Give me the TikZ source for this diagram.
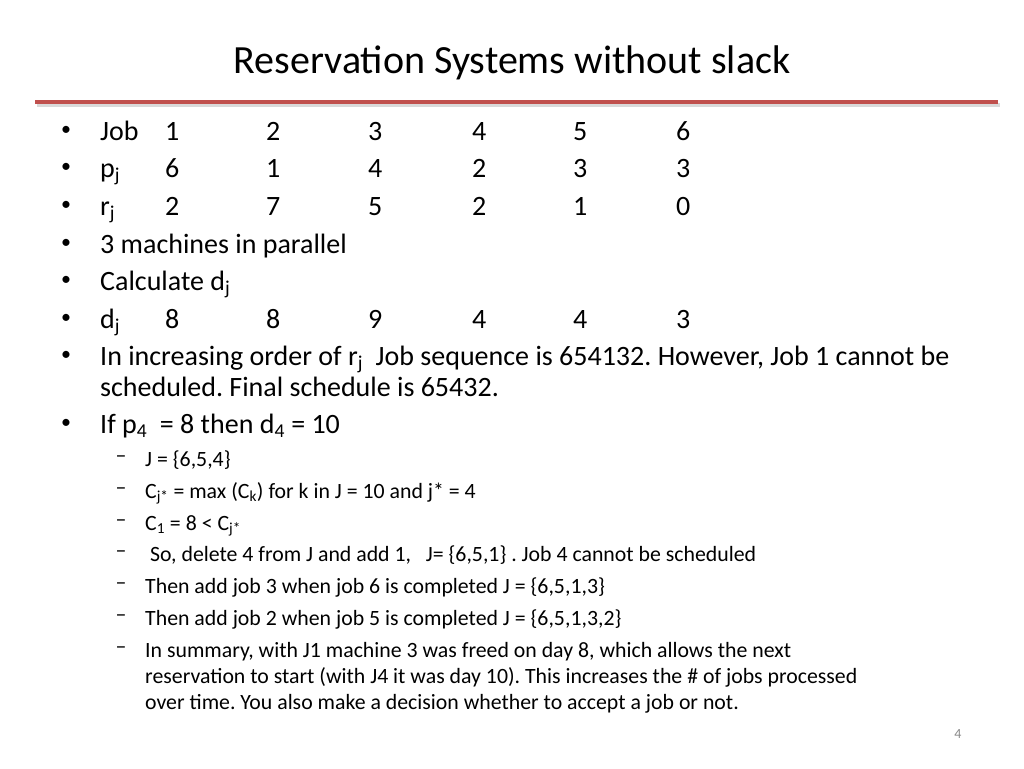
\documentclass[tikz,border=0pt]{standalone}
\usepackage{fontspec}
\setmainfont{Carlito}
\usetikzlibrary{positioning}
\definecolor{rulered}{RGB}{192,80,77}
\definecolor{pagegrey}{RGB}{137,137,137}
\frenchspacing
\begin{document}
\begin{tikzpicture}[x=1pt,y=-1pt,
  body/.style={anchor=base west,inner sep=0pt,font=\fontsize{28}{33}\selectfont},
  sub/.style={anchor=base west,inner sep=0pt,font=\fontsize{21.8}{26}\selectfont},
  cell/.style={body},
  bulletmark/.style={anchor=center,inner sep=0pt}
]
\useasboundingbox (0,0) rectangle (1024,768);

% Title and rule
\node[font=\fontsize{40}{46}\selectfont] (title) at (512,63) {Reservation Systems without slack};
\draw[line width=4pt,black!15] (37,105) -- (1000,105);
\draw[line width=4pt,rulered] (35,102) -- (998,102);

% Bullets
\foreach \y in {131,168,206,244,281,319,356,424}
  \node[bulletmark,font=\fontsize{20}{24}\selectfont] at (66,\y) {•};

% Table rows
\node[body] (job) at (100,140) {Job};
\node[body] (pj) at (100,177) {p\textsubscript{j}};
\node[body] (rj) at (100,215) {r\textsubscript{j}};
\node[body] (par) at (100,253) {3 machines in parallel};
\node[body] (calc) at (100,290) {Calculate d\textsubscript{j}};
\node[body] (dj) at (100,328) {d\textsubscript{j}};
\foreach \x [count=\i] in {165,266,368,472,573,676} {
  \node[cell] (jobv\i) at (\x,140) {\i};
}
\foreach \x/\p/\r/\d [count=\i] in {165/6/2/8,266/1/7/8,368/4/5/9,472/2/2/4,573/3/1/4,676/3/0/3} {
  \node[cell] (pv\i) at (\x,177) {\p};
  \node[cell] (rv\i) at (\x,215) {\r};
  \node[cell] (dv\i) at (\x,328) {\d};
}

\node[body] (order) at (100,365) {In increasing order of r\textsubscript{j}\ \ Job sequence is 654132. However, Job 1 cannot be};
\node[body] (order2) at (100,396) {scheduled. Final schedule is 65432.};
\node[body] (ifp) at (100,433) {If p\textsubscript{4}\ \ = 8 then d\textsubscript{4} = 10};

% Sub items
\foreach \y in {459,491,523,554,586,618,650}
  \node[bulletmark,font=\fontsize{21.8}{26}\selectfont] at (121,\y) {–};
\node[sub] (s1) at (145,466) {J = \{6,5,4\}};
\node[sub] (s2) at (145,498) {C\textsubscript{j*} = max (C\textsubscript{k}) for k in J = 10 and j* = 4};
\node[sub] (s3) at (145,530) {C\textsubscript{1} = 8 < C\textsubscript{j*}};
\node[sub] (s4) at (145,561) {\ So, delete 4 from J and add 1,\ \ \ J= \{6,5,1\} . Job 4 cannot be scheduled};
\node[sub] (s5) at (145,593) {Then add job 3 when job 6 is completed J = \{6,5,1,3\}};
\node[sub] (s6) at (145,625) {Then add job 2 when job 5 is completed J = \{6,5,1,3,2\}};
\node[sub] (s7) at (145,657) {In summary, with J1 machine 3 was freed on day 8, which allows the next};
\node[sub] (s8) at (145,683) {reservation to start (with J4 it was day 10). This increases the \# of jobs processed};
\node[sub] (s9) at (145,709) {over time. You also make a decision whether to accept a job or not.};

\node[font=\fontsize{14}{17}\selectfont,text=pagegrey] (page) at (958,734) {4};
\end{tikzpicture}
\end{document}
